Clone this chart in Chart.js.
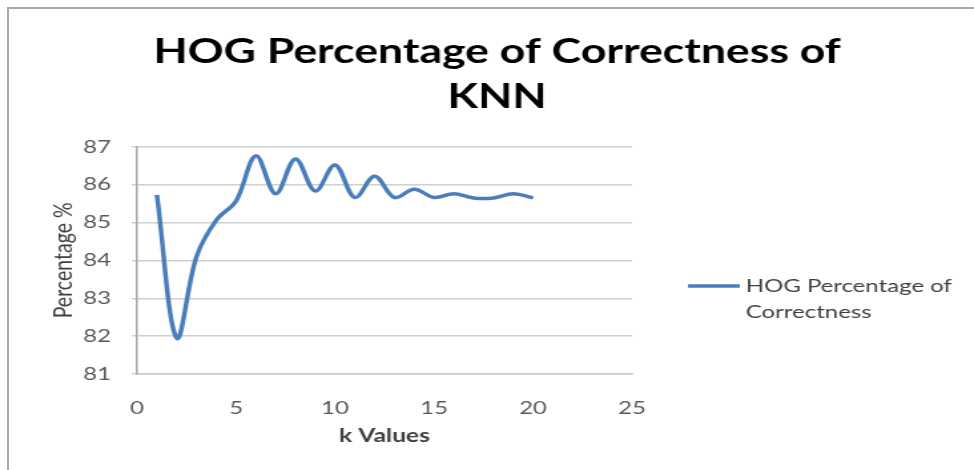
<!DOCTYPE html>
<html>
<head>
<meta charset="utf-8">
<script src="https://cdn.jsdelivr.net/npm/chart.js@4/dist/chart.umd.min.js"></script>
<style>
  html, body { margin: 0; padding: 0; background: #fff; }
  #wrap { position: relative; width: 974px; height: 470px; overflow: hidden; }
  #frame { position: absolute; left: 7px; top: 7px; width: 1000px; height: 500px;
           border-left: 2px solid #a9a9a9; border-top: 2px solid #a9a9a9; pointer-events: none; }
  /* the chart is drawn narrow and widened to the full page width */
  canvas { position: absolute; left: 0; top: 0; transform-origin: 0 0; transform: scaleX(1.3306); }
</style>
</head>
<body>
<div id="wrap">
  <canvas id="chart" width="732" height="470"></canvas>
  <div id="frame"></div>
</div>
<script>
// k values tested and the resulting HOG + KNN accuracy (%)
const kValues = [1, 2, 3, 4, 5, 6, 7, 8, 9, 10, 11, 12, 13, 14, 15, 16, 17, 18, 19, 20];
const percentCorrect = [85.73, 81.95, 84.1, 85.06, 85.57, 86.76, 85.76, 86.68, 85.83, 86.52,
                        85.66, 86.22, 85.66, 85.88, 85.66, 85.76, 85.65, 85.65, 85.76, 85.65];
const seriesName = ['HOG Percentage of', 'Correctness'];
const titleLines = ['HOG Percentage of Correctness of', 'KNN'];
const xTickStep = 5;
const yTickStep = 1;

const FONT = 'Lato, "Open Sans", sans-serif';
const LINE_COLOR = '#4a7ebb';

// Legend drawn to the right of the plot, with the label wrapped on two lines
const sideLegend = {
  id: 'sideLegend',
  afterDraw(chart) {
    const { ctx, chartArea } = chart;
    const x0 = chartArea.right + 42;
    const y0 = 286;
    ctx.save();
    ctx.strokeStyle = LINE_COLOR;
    ctx.lineWidth = 3.5;
    ctx.beginPath();
    ctx.moveTo(x0, y0);
    ctx.lineTo(x0 + 39, y0);
    ctx.stroke();
    ctx.fillStyle = '#404040';
    ctx.font = '18px ' + FONT;
    ctx.textBaseline = 'middle';
    ctx.textAlign = 'left';
    chart.data.datasets[0].label.forEach((line, i) => {
      ctx.fillText(line, x0 + 43.5, y0 + i * 26);
    });
    ctx.restore();
  }
};

new Chart(document.getElementById('chart'), {
  type: 'line',
  data: {
    datasets: [{
      label: seriesName,
      data: kValues.map((k, i) => ({ x: k, y: percentCorrect[i] })),
      borderColor: LINE_COLOR,
      backgroundColor: LINE_COLOR,
      borderWidth: 3.5,
      pointRadius: 0,
      tension: 0.35,
      fill: false
    }]
  },
  options: {
    responsive: false,
    animation: false,
    layout: { padding: { left: 15, right: 0, top: 0, bottom: 0 } },
    plugins: {
      legend: { display: false },
      tooltip: { enabled: false },
      title: {
        display: true,
        text: titleLines,
        color: '#000',
        font: { family: FONT, size: 33.5, weight: 'bold', lineHeight: 1.34 },
        padding: { top: 30, bottom: 27 }
      }
    },
    scales: {
      x: {
        type: 'linear',
        min: 0, max: 25,
        afterFit(scale) { scale.height = 96; },
        ticks: { stepSize: xTickStep, color: '#595959', padding: 23,
                 font: { family: FONT, size: 18 } },
        grid: { display: false, drawTicks: false },
        border: { display: true, color: '#c8c8c8', width: 1.5 },
        title: { display: true, text: 'k Values', color: '#404040',
                 font: { family: FONT, size: 18.5, weight: 'bold' },
                 padding: { top: 0, bottom: 23 } }
      },
      y: {
        min: 81, max: 87,
        afterFit(scale) { scale.width = 88; },
        ticks: { stepSize: yTickStep, color: '#595959', padding: 15.5,
                 font: { family: FONT, size: 18 } },
        grid: { color: '#d0d0d0', lineWidth: 1.5, tickLength: 4 },
        border: { display: true, color: '#a6a6a6', width: 1.5 },
        title: { display: true, text: 'Percentage %', color: '#404040',
                 font: { family: FONT, size: 19.5 },
                 padding: { top: 21, bottom: 0 } }
      },
      spacer: {
        // empty right-hand axis that reserves room for the legend
        position: 'right',
        display: true,
        afterFit(scale) { scale.width = 257; },
        ticks: { display: false },
        grid: { display: false, drawTicks: false },
        border: { display: false }
      }
    }
  },
  plugins: [sideLegend]
});
</script>
</body>
</html>
